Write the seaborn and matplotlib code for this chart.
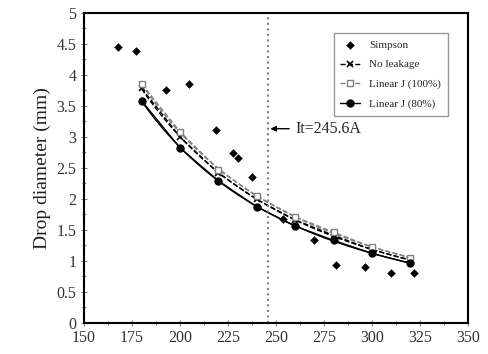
import numpy as np
import pandas as pd
import matplotlib
matplotlib.use('Agg')
import matplotlib.pyplot as plt
import seaborn as sb
from matplotlib.ticker import MultipleLocator

# Measured drop diameters (Simpson) and model predictions
simpson_current = [167.7, 177, 192.7, 204.7, 218.7, 227.6, 230.2, 237.5, 253.5, 270, 281.2, 296.4, 309.9, 321.7]
simpson_diameter = [4.44, 4.39, 3.76, 3.85, 3.11, 2.74, 2.65, 2.35, 1.67, 1.33, 0.94, 0.90, 0.80, 0.80]

model_current = [180, 200, 220, 240, 260, 280, 300, 320]
no_leakage = [3.78, 3.00, 2.41, 1.99, 1.66, 1.41, 1.18, 1.01]
linear_j_100 = [3.85, 3.08, 2.47, 2.04, 1.71, 1.46, 1.22, 1.05]
linear_j_80 = [3.58, 2.82, 2.29, 1.87, 1.56, 1.33, 1.12, 0.96]

transition_current = 245.6


def smooth(x, y):
    """Power-law trend through the model points."""
    p = np.polyfit(np.log(x), np.log(y), 2)
    xs = np.linspace(min(x), max(x), 100)
    return xs, np.exp(np.polyval(p, np.log(xs)))


if __name__ == '__main__':
    sb.set_style('ticks')
    plt.rcParams['font.family'] = ['Liberation Serif', 'DejaVu Serif']

    fig = plt.figure(figsize=(4.89, 3.54), dpi=100)
    ax = fig.add_axes([0.172, 0.088, 0.785, 0.876])

    simpson = pd.DataFrame({'current': simpson_current, 'diameter': simpson_diameter})
    sb.scatterplot(data=simpson, x='current', y='diameter', marker='D', s=16,
                   color='black', edgecolor='black', ax=ax, label='Simpson', zorder=5)

    series = [
        ('No leakage', no_leakage, dict(color='black', ls='--', marker='x', mfc='none', ms=4.5, mew=1.2)),
        ('Linear J (100%)', linear_j_100, dict(color='gray', ls='--', marker='s', mfc='white', mec='gray', ms=5, mew=1)),
        ('Linear J (80%)', linear_j_80, dict(color='black', ls='-', marker='o', mfc='black', ms=5)),
    ]
    for name, vals, style in series:
        xs, ys = smooth(model_current, vals)
        line_style = {k: v for k, v in style.items() if k in ('color', 'ls')}
        sb.lineplot(x=xs, y=ys, ax=ax, lw=1, **line_style)
        ax.plot(model_current, vals, lw=1, label=name, **style)

    ax.axvline(transition_current, color='gray', ls=':', lw=1.5)
    ax.annotate('It=245.6A', xy=(transition_current, 3.13), xytext=(260, 3.13),
                va='center', ha='left', fontsize=11.5,
                arrowprops=dict(arrowstyle='-|>', color='black', lw=1, mutation_scale=8))

    ax.set_xlim(150, 350)
    ax.set_ylim(0, 5)
    ax.xaxis.set_major_locator(MultipleLocator(25))
    ax.xaxis.set_minor_locator(MultipleLocator(12.5))
    ax.yaxis.set_major_locator(MultipleLocator(0.5))
    ax.yaxis.set_minor_locator(MultipleLocator(0.25))
    ax.tick_params(which='both', direction='inout', color='gray', labelsize=11.5,
                   labelcolor='#333333', length=4, width=0.8)
    ax.tick_params(which='minor', length=3)
    ax.set_yticklabels([f'{v:g}' for v in ax.get_yticks()])
    for s in ax.spines.values():
        s.set_linewidth(1.5)
        s.set_color('black')
    ax.set_xlabel('')
    ax.set_ylabel('Drop diameter (mm)', fontsize=14, color='#222222')

    handles, labels = ax.get_legend_handles_labels()
    leg = ax.legend(handles, labels, loc='upper right', bbox_to_anchor=(0.962, 0.952),
                    fontsize=8, frameon=True, fancybox=False, edgecolor='gray',
                    handlelength=1.8, borderpad=0.6, labelspacing=0.9)
    leg.get_frame().set_linewidth(1)

    plt.savefig('out.png', dpi=100)
